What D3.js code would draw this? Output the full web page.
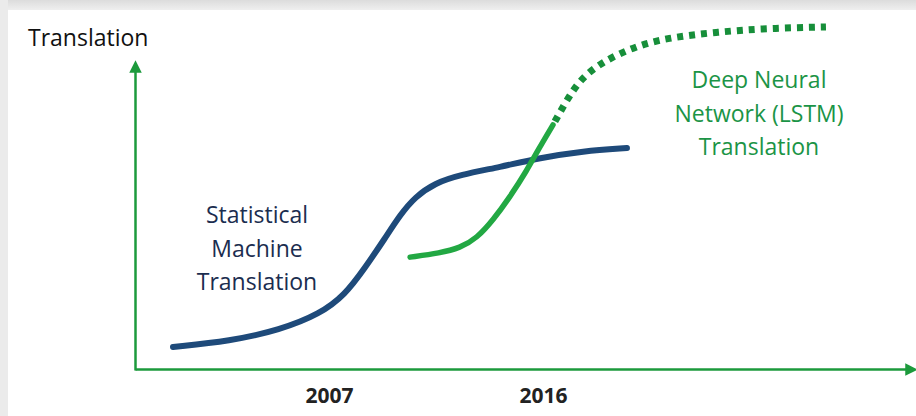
<!DOCTYPE html>
<html>
<head>
<meta charset="utf-8">
<script src="https://cdn.jsdelivr.net/npm/d3@7"></script>
<style>
  body { margin: 0; background: #fff; }
  svg { display: block; font-family: "Open Sans", sans-serif; }
</style>
</head>
<body>
<script>
// x = year, y = translation quality (0-100)
const smtYears = [2000.44, 2002.84, 2004.94, 2006.62, 2007.67, 2008.51, 2009.36, 2009.99, 2010.62, 2011.46, 2012.51, 2014.19, 2015.87, 2017.68, 2019.53];
const smtQuality = [6.5, 8.2, 11.5, 16.2, 21.8, 29.7, 38.5, 45.3, 50.6, 54.7, 57.1, 59.4, 62.1, 64.1, 65.0];

const dnnYears = [2010.41, 2011.67, 2012.51, 2013.22, 2013.90, 2014.61, 2015.33, 2015.79, 2016.42];
const dnnQuality = [32.9, 34.1, 35.6, 38.5, 43.8, 50.6, 58.5, 64.4, 71.8];

// projected part (dotted)
const dnnFutureYears = [2016.42, 2017.0, 2017.55, 2018.4, 2019.8, 2021.2, 2023.3, 2025.4, 2027.9];
const dnnFutureQuality = [71.8, 79.1, 85.0, 90.0, 94.7, 97.4, 99.1, 100.2, 100.6];

const tickYears = [2007, 2016];
const smtLabel = ["Statistical", "Machine", "Translation"];
const dnnLabel = ["Deep Neural", "Network (LSTM)", "Translation"];
const yTitle = "Translation";

const width = 916, height = 416;
const blue = "#1e4a7a", green = "#22a843", axisGreen = "#1c9a3c", textGreen = "#1b9446";

const svg = d3.select("body").append("svg")
    .attr("width", width)
    .attr("height", height);

// slide frame shading
const defs = svg.append("defs");
const grad = defs.append("linearGradient").attr("id", "topShade").attr("x1", 0).attr("y1", 0).attr("x2", 0).attr("y2", 1);
grad.append("stop").attr("offset", "0%").attr("stop-color", "#dcdcdc");
grad.append("stop").attr("offset", "100%").attr("stop-color", "#efefef");
svg.append("rect").attr("x", 0).attr("y", 0).attr("width", width).attr("height", 10).attr("fill", "url(#topShade)");
svg.append("rect").attr("x", 0).attr("y", 0).attr("width", 8).attr("height", height).attr("fill", "#ebebeb");

defs.append("marker")
    .attr("id", "arrow")
    .attr("viewBox", "0 0 10 10")
    .attr("refX", 5).attr("refY", 5)
    .attr("markerWidth", 5).attr("markerHeight", 5)
    .attr("markerUnits", "strokeWidth")
    .attr("orient", "auto")
  .append("path")
    .attr("d", "M0,0L10,5L0,10Z")
    .attr("fill", axisGreen);

// scales
const x = d3.scaleLinear()
    .domain([2007, 2016])
    .range([329, 543]);
const y = d3.scaleLinear()
    .domain([0, 100])
    .range([369, 29]);

const xStart = x.invert(135), xEnd = x.invert(911);
const yAxisTop = y.invert(66);

// x axis
const xAxis = svg.append("g")
    .attr("transform", `translate(0,${y(0)})`)
    .call(d3.axisBottom(d3.scaleLinear().domain([xStart, xEnd]).range([x(xStart), x(xEnd)]))
        .tickValues(tickYears).tickFormat(d3.format("d")).tickSize(0).tickPadding(19));
xAxis.select(".domain")
    .attr("stroke", axisGreen)
    .attr("stroke-width", 2.5)
    .attr("marker-end", "url(#arrow)");
xAxis.selectAll("text")
    .attr("fill", "#222")
    .style("font-size", "21px")
    .style("font-weight", 700)
    .style("font-family", "'Liberation Sans Narrow', 'Open Sans', sans-serif");

// y axis
const yAxis = svg.append("g")
    .attr("transform", `translate(${x(xStart)},0)`)
    .call(d3.axisLeft(d3.scaleLinear().domain([0, yAxisTop]).range([y(0) + 1, y(yAxisTop)]))
        .ticks(0).tickSizeOuter(0));
yAxis.select(".domain")
    .attr("stroke", axisGreen)
    .attr("stroke-width", 2.5)
    .attr("marker-end", "url(#arrow)");

svg.append("text")
    .attr("x", 28)
    .attr("y", 46)
    .attr("fill", "#111")
    .style("font-size", "23px")
    .text(yTitle);

// lines
const line = d3.line()
    .x(d => x(d[0]))
    .y(d => y(d[1]))
    .curve(d3.curveBasis);

svg.append("path")
    .datum(d3.zip(smtYears, smtQuality))
    .attr("fill", "none")
    .attr("stroke", blue)
    .attr("stroke-width", 6)
    .attr("stroke-linecap", "round")
    .attr("d", line);

svg.append("path")
    .datum(d3.zip(dnnYears, dnnQuality))
    .attr("fill", "none")
    .attr("stroke", green)
    .attr("stroke-width", 5.5)
    .attr("stroke-linecap", "round")
    .attr("d", line);

svg.append("path")
    .datum(d3.zip(dnnFutureYears, dnnFutureQuality))
    .attr("fill", "none")
    .attr("stroke", "#178f3a")
    .attr("stroke-width", 7)
    .attr("stroke-dasharray", "6 6")
    .attr("stroke-dashoffset", -4)
    .attr("d", line);

// labels
svg.append("text")
    .attr("text-anchor", "middle")
    .attr("fill", "#1b2d4f")
    .style("font-size", "23px")
    .selectAll("tspan")
    .data(smtLabel)
    .join("tspan")
    .attr("x", 257)
    .attr("y", (d, i) => 223 + i * 33.5)
    .text(d => d);

svg.append("text")
    .attr("text-anchor", "middle")
    .attr("fill", textGreen)
    .style("font-size", "23px")
    .selectAll("tspan")
    .data(dnnLabel)
    .join("tspan")
    .attr("x", 759)
    .attr("y", (d, i) => 88 + i * 33.5)
    .text(d => d);
</script>
</body>
</html>
